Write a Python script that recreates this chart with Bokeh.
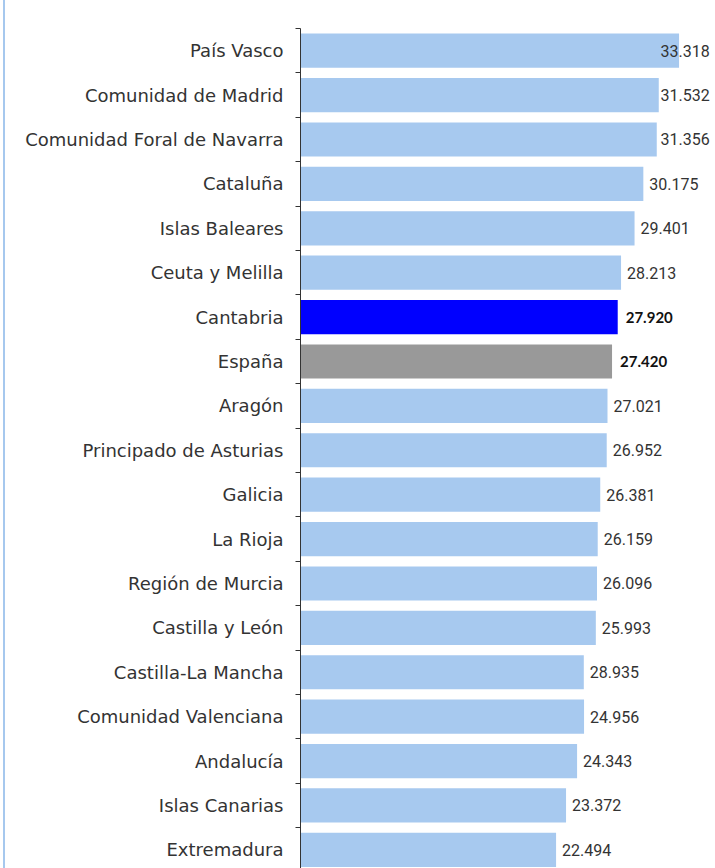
from bokeh.plotting import figure
from bokeh.models import Range1d, FixedTicker, LinearAxis, ColumnDataSource
from bokeh.core.properties import value
from bokeh.embed import file_html
from bokeh.resources import INLINE

regions = ["País Vasco", "Comunidad de Madrid", "Comunidad Foral de Navarra", "Cataluña",
           "Islas Baleares", "Ceuta y Melilla", "Cantabria", "España", "Aragón",
           "Principado de Asturias", "Galicia", "La Rioja", "Región de Murcia",
           "Castilla y León", "Castilla-La Mancha", "Comunidad Valenciana", "Andalucía",
           "Islas Canarias", "Extremadura"]
values = [33.318, 31.532, 31.356, 30.175, 29.401, 28.213, 27.920, 27.420, 27.021,
          26.952, 26.381, 26.159, 26.096, 25.993, 24.935, 24.956, 24.343, 23.372, 22.494]
value_labels = ["33.318", "31.532", "31.356", "30.175", "29.401", "28.213", "27.920", "27.420",
                "27.021", "26.952", "26.381", "26.159", "26.096", "25.993", "28.935", "24.956",
                "24.343", "23.372", "22.494"]
highlight = {"Cantabria": "#0000ff", "España": "#999999"}
base_color = "#a7c9ef"
label_clamp = 31.16

n = len(regions)
ys = list(range(n))
colors = [highlight.get(r, base_color) for r in regions]
lab_x = [min(v, label_clamp) for v in values]
bold = [r in highlight for r in regions]

src = ColumnDataSource(dict(y=ys, v=values, c=colors))
src_norm = ColumnDataSource(dict(
    x=[x for x, b in zip(lab_x, bold) if not b],
    y=[y for y, b in zip(ys, bold) if not b],
    t=[t for t, b in zip(value_labels, bold) if not b]))
src_bold = ColumnDataSource(dict(
    x=[x for x, b in zip(lab_x, bold) if b],
    y=[y for y, b in zip(ys, bold) if b],
    t=[t for t, b in zip(value_labels, bold) if b]))

p = figure(width=708, height=868, output_backend="svg", toolbar_location=None,
           x_range=Range1d(0, 36.35), y_range=Range1d(18.42, -0.5),
           min_border_left=295, min_border_right=0, min_border_top=28, min_border_bottom=0,
           y_axis_location=None, x_axis_location=None)
p.styles = {"border-left": "2px solid #a6c8ee", "margin-left": "3px"}
p.outline_line_color = None
p.xgrid.visible = False
p.ygrid.visible = False

p.hbar(y="y", right="v", left=0, height=0.77, color="c", source=src, line_color=None)

p.text(x="x", y="y", text="t", source=src_norm, x_offset=6, text_baseline="middle",
       text_font=value("Roboto"), text_font_size="16px", text_color="#333333")
p.text(x="x", y="y", text="t", source=src_bold, x_offset=8, text_baseline="middle",
       text_font=value("Lato"), text_font_style="bold", text_font_size="15px",
       text_color="#111111")

ax = LinearAxis(ticker=FixedTicker(ticks=ys, minor_ticks=[i - 0.5 for i in range(n + 1)]))
ax.major_label_overrides = {i: r for i, r in enumerate(regions)}
ax.major_tick_out = 0
ax.major_tick_in = 0
ax.minor_tick_out = 5
ax.minor_tick_in = 0
ax.minor_tick_line_color = "#333333"
ax.axis_line_color = "#333333"
ax.major_label_standoff = 12
ax.major_label_text_font = "DejaVu Sans"
ax.major_label_text_font_size = "18px"
ax.major_label_text_color = "#333333"
p.add_layout(ax, "left")

open("out.html", "w").write(file_html(p, INLINE))
